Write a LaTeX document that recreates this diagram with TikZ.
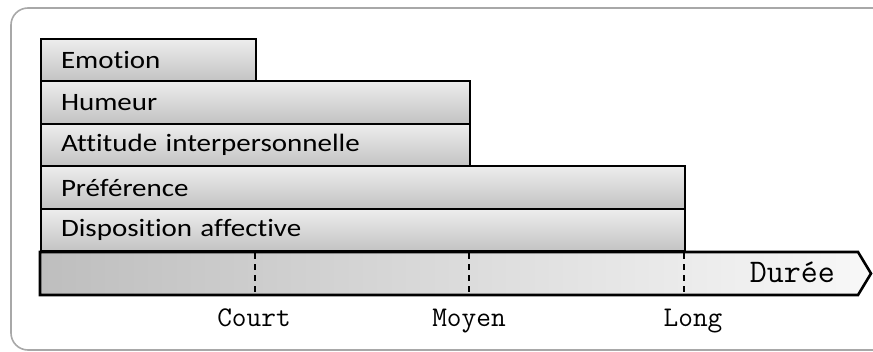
\documentclass[tikz,border=0pt]{standalone}
\usepackage{fontspec}
\newfontfamily\barfont[FakeStretch=1.16,Ligatures=NoCommon]{Carlito}
\definecolor{framegray}{HTML}{A8A8A8}
\definecolor{bartop}{HTML}{EDEDED}
\definecolor{barbot}{HTML}{C2C2C2}
\definecolor{arrleft}{HTML}{BEBEBE}
\definecolor{arrright}{HTML}{F8F8F8}
\tikzset{
  barbox/.style={draw=black, line width=2pt, top color=bartop, bottom color=barbot,
    anchor=north west, minimum height=42.5pt, inner xsep=20pt, inner ysep=0pt,
    align=left, font=\barfont\fontsize{25}{28}\selectfont},
  ticklabel/.style={font=\ttfamily\fontsize{28.5}{30}\selectfont, anchor=base, inner sep=0pt},
  tickline/.style={line width=2pt, dash pattern=on 6pt off 5pt},
}
\begin{document}
\begin{tikzpicture}[x=1pt,y=-1pt]
\useasboundingbox (0,0) rectangle (873,352);
\draw[framegray, line width=1.6pt, rounded corners=17pt] (11,8) rectangle (895,350);
% axis arrow
\path[draw=black, line width=2.6pt, line join=miter, left color=arrleft, right color=arrright]
  (40,252) -- (858,252) -- (871,273.5) -- (858,295) -- (40,295) -- cycle;
\node[font=\ttfamily\fontsize{33}{36}\selectfont, anchor=base east, inner sep=0pt] (duree) at (835,283) {Durée};
% tick lines
\foreach \x/\n in {255/c,469/m,684/l}{
  \coordinate (t\n top) at (\x,253.5);
  \coordinate (t\n bot) at (\x,293.5);
  \draw[tickline] (t\n top) -- (t\n bot);
}
% bars
\node[barbox, minimum width=215pt, text width=175pt] (emotion) at (40,38) {Emotion};
\node[barbox, minimum width=429pt, text width=389pt] (humeur) at (40,80.5) {Humeur};
\node[barbox, minimum width=429pt, text width=389pt] (attitude) at (40,123) {Attitude interpersonnelle};
\node[barbox, minimum width=644pt, text width=604pt] (pref) at (40,165.5) {Préférence};
\node[barbox, minimum width=644pt, text width=604pt] (dispo) at (40,208) {Disposition affective};
% tick labels
\node[ticklabel] (court) at (254,327) {Court};
\node[ticklabel] (moyen) at (469,327) {Moyen};
\node[ticklabel] (long) at (693,327) {Long};
\end{tikzpicture}
\end{document}
